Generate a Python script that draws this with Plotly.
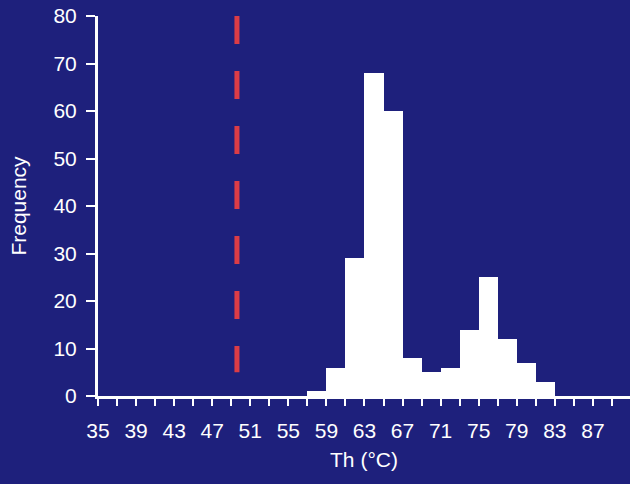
import plotly.graph_objects as go

# Histogram bins (lower edge, °C) and frequencies
bin_lower = [57, 59, 61, 63, 65, 67, 69, 71, 73, 75, 77, 79, 81]
bin_width = 2
frequency = [1, 6, 29, 68, 60, 8, 5, 6, 14, 25, 12, 7, 3]

# Reference line (dashed red)
ref_x = 49.6
ref_y = [5, 80]

tick_vals = list(range(35, 91, 4))
bg = "#1e207c"

centers = [b + bin_width / 2 for b in bin_lower]

fig = go.Figure()
fig.add_trace(go.Bar(
    x=centers, y=frequency, width=[bin_width] * len(centers),
    marker=dict(color="white", line=dict(width=0)),
    showlegend=False, hoverinfo="x+y",
))
fig.add_trace(go.Scatter(
    x=[ref_x, ref_x], y=[ref_y[1], ref_y[0]], mode="lines",
    line=dict(color="#dc3c46", width=5, dash="28px,27px"),
    showlegend=False,
))

font = dict(family="Arial, Liberation Sans, sans-serif", color="white")

fig.update_layout(
    width=630, height=484,
    margin=dict(l=98, r=0, t=16, b=88),
    paper_bgcolor=bg, plot_bgcolor=bg,
    bargap=0,
    font=font,
    xaxis=dict(
        range=[35, 90.9], tickmode="array", tickvals=tick_vals,
        ticks="outside", ticklen=7, tickwidth=2, tickcolor="white",
        minor=dict(dtick=2, tick0=35, ticks="outside", ticklen=7, tickwidth=2, tickcolor="white"),
        showline=True, linecolor="white", linewidth=3,
        showgrid=False, zeroline=False,
        tickfont=dict(size=21, color="white"),
        ticklabelstandoff=7,
        title=dict(text="Th (°C)", font=dict(size=21, color="white"), standoff=12),
    ),
    yaxis=dict(
        range=[0, 80], dtick=10,
        ticks="outside", ticklen=9, tickwidth=2, tickcolor="white",
        showline=True, linecolor="white", linewidth=3,
        showgrid=False, zeroline=False,
        tickfont=dict(size=21, color="white"),
        ticklabelstandoff=5,
        title=dict(text="Frequency", font=dict(size=21, color="white"), standoff=22),
    ),
)

fig.write_html(
    "out.html",
    config={"displayModeBar": False},
    post_script="document.body.style.margin='0';document.body.style.background='" + bg + "';",
)
